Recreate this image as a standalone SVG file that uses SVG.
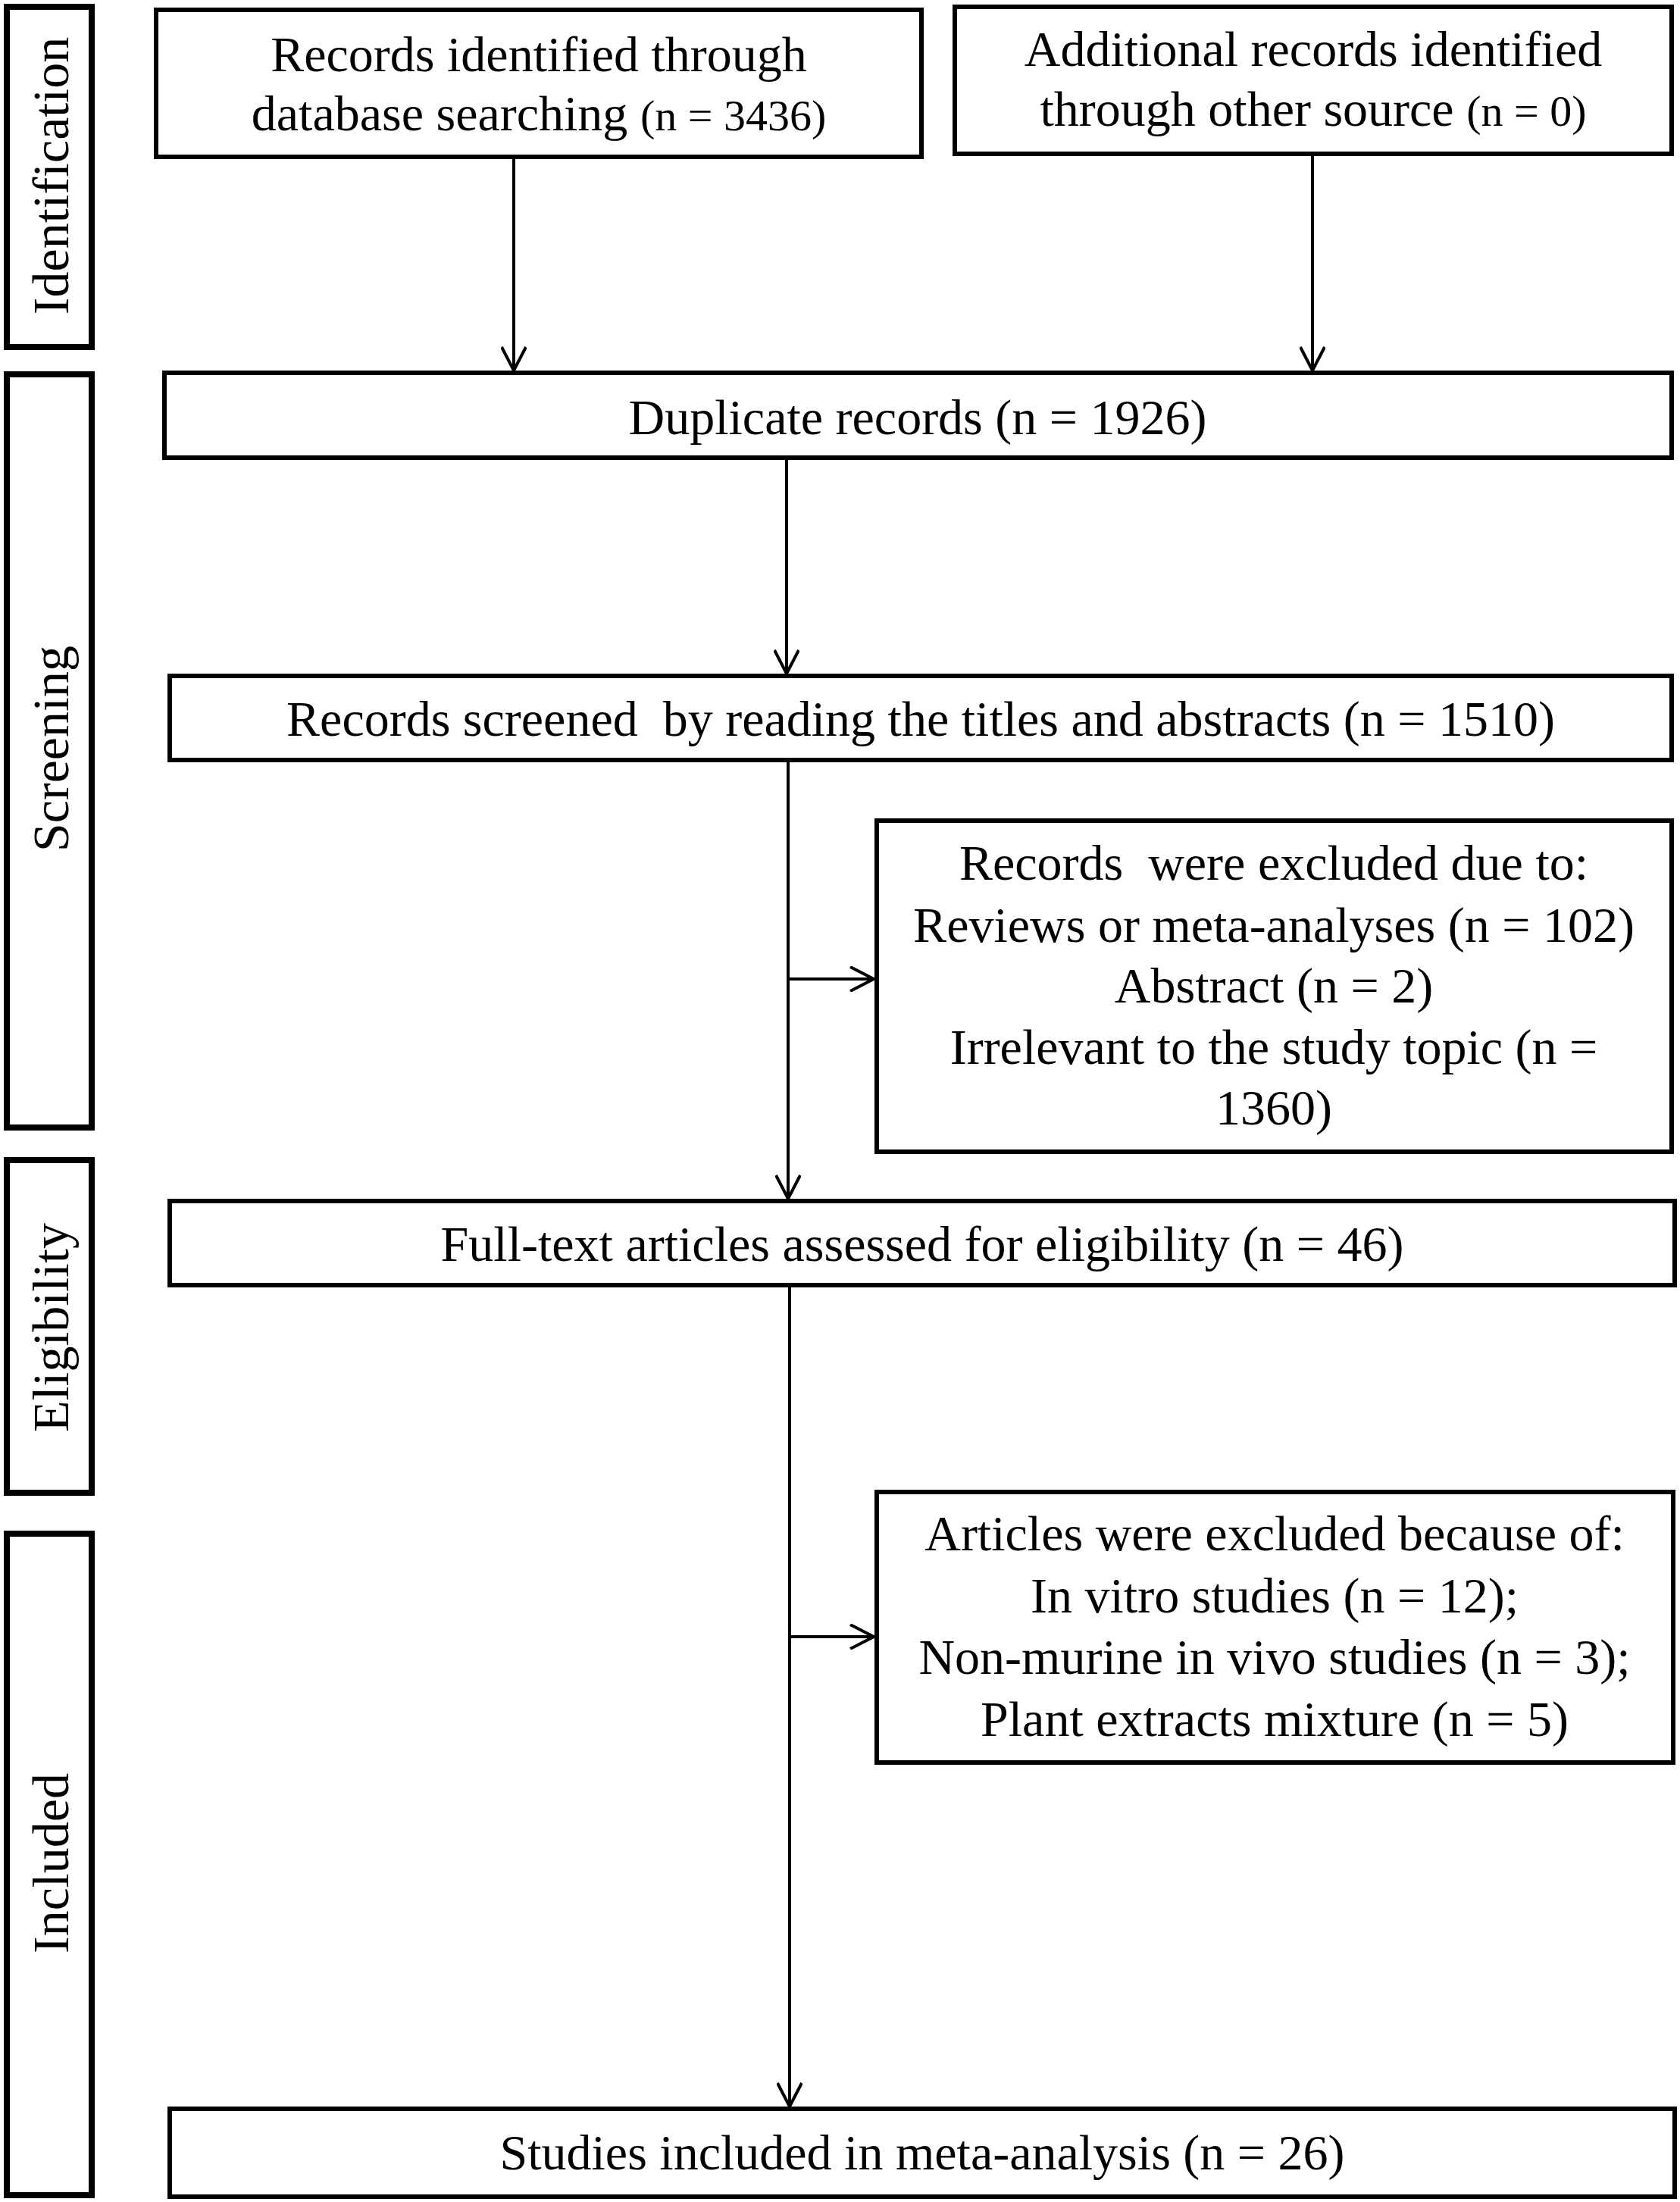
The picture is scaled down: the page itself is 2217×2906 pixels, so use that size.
<svg xmlns="http://www.w3.org/2000/svg" width="2217" height="2906" viewBox="0 0 2217 2906">
<style>
.box{fill:#fff;stroke:#000;stroke-width:6}
.side{fill:#fff;stroke:#000;stroke-width:8}
.t{font-family:"Liberation Serif","Times New Roman",serif;font-size:66px;fill:#000;text-anchor:middle}
.s{font-size:58px}
.lbl{font-family:"Liberation Serif","Times New Roman",serif;font-size:68px;fill:#000;text-anchor:middle}
.c{fill:none;stroke:#000;stroke-width:4}
</style>
<defs>
<marker id="ah" viewBox="0 0 34 34" refX="32" refY="17" markerWidth="34" markerHeight="34" markerUnits="userSpaceOnUse" orient="auto">
<path d="M1,1 L32,17 L1,33" fill="none" stroke="#000" stroke-width="4"/>
</marker>
</defs>
<rect width="2217" height="2906" fill="#fff"/>
<g id="label-identification">
<rect class="side" x="9" y="9" width="112" height="449"/>
<text class="lbl" transform="translate(90,232) rotate(-90)">Identification</text>
</g>
<g id="label-screening">
<rect class="side" x="9" y="494" width="112" height="994"/>
<text class="lbl" transform="translate(90,988) rotate(-90)">Screening</text>
</g>
<g id="label-eligibility">
<rect class="side" x="9" y="1531" width="112" height="439"/>
<text class="lbl" transform="translate(90,1752) rotate(-90)">Eligibility</text>
</g>
<g id="label-included">
<rect class="side" x="9" y="2024" width="112" height="873"/>
<text class="lbl" transform="translate(90,2459) rotate(-90)">Included</text>
</g>
<g id="connectors">
<line class="c" x1="678" y1="209" x2="678" y2="489" marker-end="url(#ah)"/>
<line class="c" x1="1732" y1="205" x2="1732" y2="489" marker-end="url(#ah)"/>
<line class="c" x1="1038" y1="604" x2="1038" y2="889" marker-end="url(#ah)"/>
<line class="c" x1="1040" y1="1003" x2="1040" y2="1582" marker-end="url(#ah)"/>
<line class="c" x1="1040" y1="1292" x2="1153" y2="1292" marker-end="url(#ah)"/>
<line class="c" x1="1042" y1="1697" x2="1042" y2="2780" marker-end="url(#ah)"/>
<line class="c" x1="1042" y1="2160" x2="1153" y2="2160" marker-end="url(#ah)"/>
</g>
<g id="node-database">
<rect class="box" x="206" y="13" width="1010" height="194"/>
<text class="t" x="711" y="94">Records identified through</text>
<text class="t" x="711" y="172">database searching <tspan class="s">(n = 3436)</tspan></text>
</g>
<g id="node-other">
<rect class="box" x="1260" y="9" width="946" height="194"/>
<text class="t" x="1733" y="87">Additional records identified</text>
<text class="t" x="1733" y="166">through other source <tspan class="s">(n = 0)</tspan></text>
</g>
<g id="node-duplicate">
<rect class="box" x="217" y="492" width="1989" height="112"/>
<text class="t" x="1211" y="573">Duplicate records (n = 1926)</text>
</g>
<g id="node-screened">
<rect class="box" x="224" y="892" width="1982" height="111"/>
<text class="t" x="1215" y="971" xml:space="preserve">Records screened  by reading the titles and abstracts (n = 1510)</text>
</g>
<g id="node-excluded1">
<rect class="box" x="1157" y="1083" width="1049" height="437"/>
<text class="t" x="1681" y="1161" xml:space="preserve">Records  were excluded due to:</text>
<text class="t" x="1681" y="1243">Reviews or meta-analyses (n = 102)</text>
<text class="t" x="1681" y="1323">Abstract (n = 2)</text>
<text class="t" x="1681" y="1404">Irrelevant to the study topic (n =</text>
<text class="t" x="1681" y="1484">1360)</text>
</g>
<g id="node-fulltext">
<rect class="box" x="224" y="1585" width="1986" height="111"/>
<text class="t" x="1217" y="1664">Full-text articles assessed for eligibility (n = 46)</text>
</g>
<g id="node-excluded2">
<rect class="box" x="1157" y="1969" width="1051" height="357"/>
<text class="t" x="1682" y="2046">Articles were excluded because of:</text>
<text class="t" x="1682" y="2128">In vitro studies (n = 12);</text>
<text class="t" x="1682" y="2209">Non-murine in vivo studies (n = 3);</text>
<text class="t" x="1682" y="2291">Plant extracts mixture (n = 5)</text>
</g>
<g id="node-included">
<rect class="box" x="224" y="2783" width="1986" height="116"/>
<text class="t" x="1217" y="2863">Studies included in meta-analysis (n = 26)</text>
</g>
</svg>
